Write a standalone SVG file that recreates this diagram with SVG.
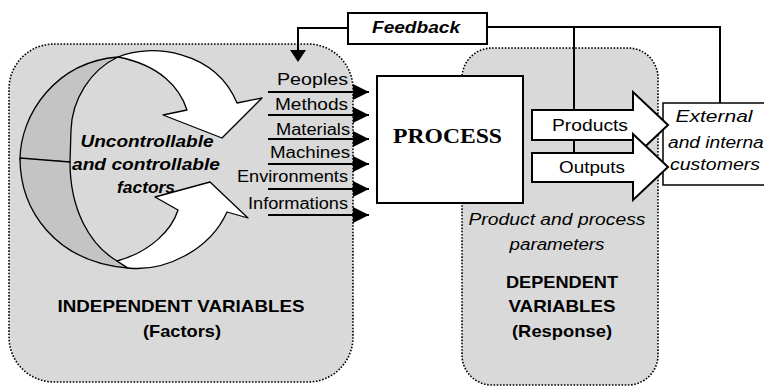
<svg xmlns="http://www.w3.org/2000/svg" width="764" height="387" viewBox="0 0 764 387">
  <style>
    .zone { fill: #d9d9d9; stroke: #000; stroke-width: 1.6; stroke-dasharray: 1.6 1.6; }
    .box { fill: #fff; stroke: #000; stroke-width: 2; }
    .thin { fill: #fff; stroke: #000; stroke-width: 1.5; }
    .line { fill: none; stroke: #000; stroke-width: 2; }
    .curve { stroke: #000; stroke-width: 1.3; stroke-linejoin: round; }
    .sans { font-family: "Liberation Sans", Arial, sans-serif; fill: #000; }
    .lbl { font-size: 16px; text-anchor: end; }
    .bi { font-weight: bold; font-style: italic; }
    .it { font-style: italic; }
    .b { font-weight: bold; }
    .mid { text-anchor: middle; }
  </style>
  <defs>
    <marker id="head" markerUnits="userSpaceOnUse" markerWidth="18" markerHeight="18" refX="16" refY="8" orient="auto">
      <polygon points="0,0 16,8 0,16" fill="#000"/>
    </marker>
  </defs>

  <rect width="764" height="387" fill="#fff"/>

  <!-- shaded zones -->
  <g id="independent-zone">
    <rect class="zone" x="9" y="44" width="344" height="338" rx="45" ry="45"/>
    <text class="sans b mid" x="181" y="312" font-size="17" textLength="247" lengthAdjust="spacingAndGlyphs">INDEPENDENT VARIABLES</text>
    <text class="sans b mid" x="182" y="337" font-size="17" textLength="78" lengthAdjust="spacingAndGlyphs">(Factors)</text>
  </g>
  <g id="dependent-zone">
    <rect class="zone" x="462" y="48" width="196" height="337" rx="30" ry="30"/>
    <text class="sans it mid" x="557" y="225" font-size="16" fill="#222" textLength="177" lengthAdjust="spacingAndGlyphs">Product and process</text>
    <text class="sans it mid" x="557" y="250" font-size="16" fill="#222" textLength="95" lengthAdjust="spacingAndGlyphs">parameters</text>
    <text class="sans b mid" x="562" y="288" font-size="17" textLength="112" lengthAdjust="spacingAndGlyphs">DEPENDENT</text>
    <text class="sans b mid" x="562" y="312" font-size="17" textLength="107" lengthAdjust="spacingAndGlyphs">VARIABLES</text>
    <text class="sans b mid" x="562" y="337" font-size="17" textLength="100" lengthAdjust="spacingAndGlyphs">(Response)</text>
  </g>

  <!-- circular factor arrow -->
  <g id="factor-cycle">
    <path class="curve" fill="#c4c4c4" d="M20,160 C20,115 55,62 118,57 C90,70 72,100 71,130 L70,162 Z"/>
    <path class="curve" fill="#c4c4c4" d="M20,158 C20,210 55,262 128,268 L117,261 C90,245 70,210 70,162 Z"/>
    <path class="curve" fill="#fff" d="M118,57 C150,43 215,50 237,103 L262,98 L222,138 L163,115 L187,110 C180,88 160,65 118,57 Z"/>
    <path class="curve" fill="#fff" d="M117,261 L128,268 C165,272 210,250 227,212 L248,218 L210,182 L155,197 L178,210 C172,230 150,252 117,261 Z"/>
    <text class="sans bi mid" x="147" y="147" font-size="16.5" textLength="133" lengthAdjust="spacingAndGlyphs">Uncontrollable</text>
    <text class="sans bi mid" x="146" y="170" font-size="16.5" textLength="148" lengthAdjust="spacingAndGlyphs">and controllable</text>
    <text class="sans bi mid" x="146" y="193" font-size="16.5" textLength="58" lengthAdjust="spacingAndGlyphs">factors</text>
  </g>

  <!-- connectors -->
  <g id="connectors">
    <polyline class="line" points="348,28 298,28 298,52"/>
    <polygon points="290,50 306,50 298,62" fill="#000"/>
    <polyline class="line" points="487,27 720,27 720,103"/>
    <line class="line" x1="574" y1="27" x2="574" y2="153"/>
    <line class="line" x1="268" y1="92" x2="369" y2="92" marker-end="url(#head)"/>
    <line class="line" x1="268" y1="115" x2="369" y2="115" marker-end="url(#head)"/>
    <line class="line" x1="268" y1="139" x2="369" y2="139" marker-end="url(#head)"/>
    <line class="line" x1="268" y1="164" x2="369" y2="164" marker-end="url(#head)"/>
    <line class="line" x1="268" y1="189" x2="369" y2="189" marker-end="url(#head)"/>
    <line class="line" x1="268" y1="215" x2="369" y2="215" marker-end="url(#head)"/>
  </g>

  <!-- factor labels -->
  <g id="factor-labels" class="sans lbl">
    <text x="348" y="85" textLength="71" lengthAdjust="spacingAndGlyphs">Peoples</text>
    <text x="348" y="110" textLength="73" lengthAdjust="spacingAndGlyphs">Methods</text>
    <text x="350" y="135" textLength="74" lengthAdjust="spacingAndGlyphs">Materials</text>
    <text x="350" y="158" textLength="80" lengthAdjust="spacingAndGlyphs">Machines</text>
    <text x="348" y="182" textLength="111" lengthAdjust="spacingAndGlyphs">Environments</text>
    <text x="348" y="209" textLength="100" lengthAdjust="spacingAndGlyphs">Informations</text>
  </g>

  <g id="feedback">
    <rect class="box" x="348" y="13" width="139" height="31"/>
    <text class="sans bi" x="372" y="33" font-size="16" textLength="88" lengthAdjust="spacingAndGlyphs">Feedback</text>
  </g>

  <g id="process">
    <rect class="box" x="377" y="76" width="146" height="127"/>
    <text x="393" y="143" font-family="'Liberation Serif', 'Times New Roman', serif" font-weight="bold" font-size="20" textLength="109" lengthAdjust="spacingAndGlyphs">PROCESS</text>
  </g>

  <g id="customers">
    <rect class="thin" x="663" y="103" width="110" height="82"/>
    <text class="sans it mid" x="714" y="122" font-size="16" textLength="77" lengthAdjust="spacingAndGlyphs">External</text>
    <text class="sans it" x="668" y="148" font-size="16" textLength="100" lengthAdjust="spacingAndGlyphs">and internal</text>
    <text class="sans it mid" x="715" y="170" font-size="16" textLength="90" lengthAdjust="spacingAndGlyphs">customers</text>
  </g>

  <g id="products">
    <polygon class="box" points="532,110 633,110 633,92 668,125 633,158 633,140 532,140"/>
    <text class="sans" x="552" y="131" font-size="16" textLength="76" lengthAdjust="spacingAndGlyphs">Products</text>
  </g>

  <g id="outputs">
    <polygon class="box" points="532,153 633,153 633,134 668,167 633,200 633,182 532,182"/>
    <text class="sans" x="559" y="173" font-size="16" textLength="66" lengthAdjust="spacingAndGlyphs">Outputs</text>
  </g>
</svg>
